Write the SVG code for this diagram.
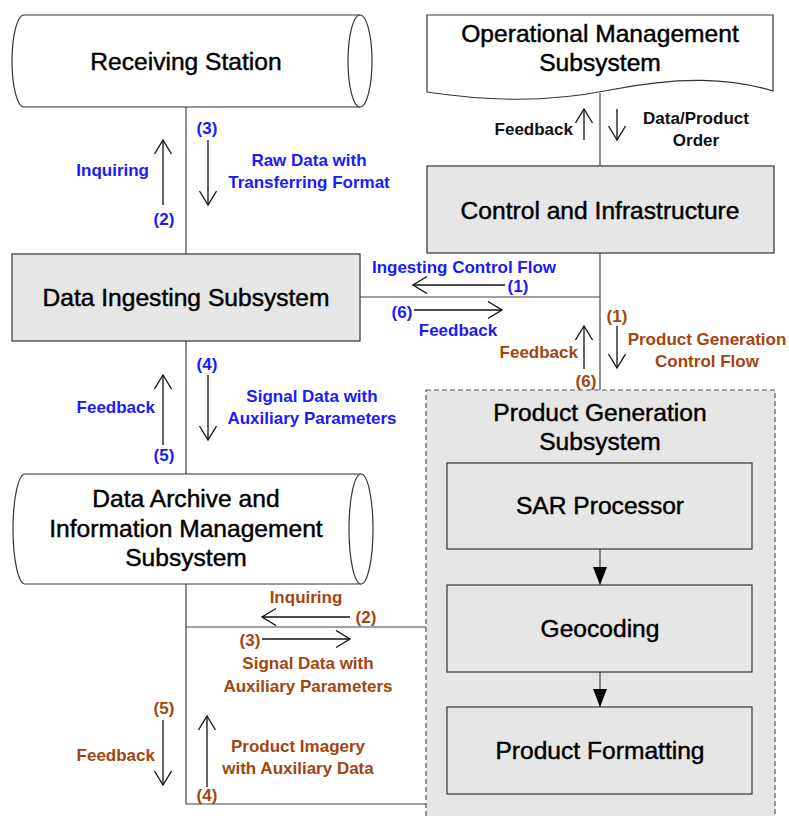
<svg xmlns="http://www.w3.org/2000/svg" width="789" height="816" viewBox="0 0 789 816">
  <style>
    .node { fill: #ffffff; stroke: #333333; stroke-width: 1.2; }
    .box { fill: #e6e6e6; stroke: #333333; stroke-width: 1.2; }
    .group { fill: #e6e6e6; stroke: #555555; stroke-width: 1.2; stroke-dasharray: 5 3; }
    .title { font-family: "Liberation Sans", Arial, sans-serif; font-size: 24.6px; fill: #000000; stroke: #000000; stroke-width: 0.45; text-anchor: middle; }
    .lbl { font-family: "Liberation Sans", Arial, sans-serif; font-size: 17px; font-weight: bold; }
    .blue { fill: #1a1aff; }
    .brown { fill: #a3450f; }
    .black { fill: #111111; }
    .mid { text-anchor: middle; }
    .end { text-anchor: end; }
    .wire { stroke: #444444; stroke-width: 1.2; fill: none; }
    .flow { stroke: #111111; stroke-width: 1.3; fill: none; marker-end: url(#open); }
    .step { stroke: #444444; stroke-width: 1.2; fill: none; marker-end: url(#solid); }
  </style>
  <defs>
    <marker id="open" markerUnits="userSpaceOnUse" markerWidth="18" markerHeight="20" refX="15" refY="9" orient="auto">
      <path d="M1,0.5 L15,9 L1,17.5" fill="none" stroke="#111111" stroke-width="1.3"/>
    </marker>
    <marker id="solid" markerUnits="userSpaceOnUse" markerWidth="20" markerHeight="16" refX="18" refY="7" orient="auto">
      <path d="M0,0 L18,7 L0,14 Z" fill="#000000"/>
    </marker>
  </defs>

  <!-- product generation container (drawn first, behind everything) -->
  <g id="product-generation">
    <rect class="group" x="426" y="390" width="349" height="440"/>
    <text class="title" x="600" y="421">Product Generation</text>
    <text class="title" x="600" y="450">Subsystem</text>
  </g>

  <!-- connectors -->
  <g id="connectors">
    <line class="wire" x1="186" y1="107" x2="186" y2="254"/>
    <line class="wire" x1="600" y1="93" x2="600" y2="166"/>
    <polyline class="wire" points="600,253 600,390"/>
    <line class="wire" x1="360" y1="297" x2="600" y2="297"/>
    <line class="wire" x1="186" y1="341" x2="186" y2="474"/>
    <polyline class="wire" points="426,627 186,627 186,584"/>
    <polyline class="wire" points="186,627 186,804 426,804"/>
    <line class="step" x1="600" y1="549" x2="600" y2="585"/>
    <line class="step" x1="600" y1="672" x2="600" y2="707"/>

    <!-- flow arrows -->
    <line class="flow" x1="163" y1="205" x2="163" y2="140"/>
    <line class="flow" x1="208" y1="140" x2="208" y2="205"/>
    <line class="flow" x1="584" y1="140" x2="584" y2="109"/>
    <line class="flow" x1="617" y1="109" x2="617" y2="140"/>
    <line class="flow" x1="505" y1="285" x2="413" y2="285"/>
    <line class="flow" x1="414" y1="310" x2="502" y2="310"/>
    <line class="flow" x1="617" y1="326" x2="617" y2="368"/>
    <line class="flow" x1="584" y1="369" x2="584" y2="326"/>
    <line class="flow" x1="163" y1="445" x2="163" y2="375"/>
    <line class="flow" x1="208" y1="375" x2="208" y2="440"/>
    <line class="flow" x1="350" y1="617" x2="262" y2="617"/>
    <line class="flow" x1="262" y1="639" x2="350" y2="639"/>
    <line class="flow" x1="163" y1="720" x2="163" y2="785"/>
    <line class="flow" x1="207" y1="787" x2="207" y2="716"/>
  </g>

  <!-- nodes -->
  <g id="receiving-station">
    <path class="node" d="M24,15 L360,15 A12,46 0 0 1 360,107 L24,107 A12,46 0 0 1 24,15 Z"/>
    <path class="node" d="M360,15 A12,46 0 0 0 360,107" fill="none"/>
    <text class="title" x="186" y="70">Receiving Station</text>
  </g>

  <g id="operational-management">
    <path class="node" d="M427,15 L773,15 L773,91 C730,78 680,76 610,90 C540,104 480,100 427,92 Z"/>
    <text class="title" x="600" y="42">Operational Management</text>
    <text class="title" x="600" y="71">Subsystem</text>
  </g>

  <g id="control-infrastructure">
    <rect class="box" x="427" y="166" width="347" height="87"/>
    <text class="title" x="600" y="219">Control and Infrastructure</text>
  </g>

  <g id="data-ingesting">
    <rect class="box" x="12" y="254" width="348" height="87"/>
    <text class="title" x="186" y="306">Data Ingesting Subsystem</text>
  </g>

  <g id="data-archive">
    <path class="node" d="M25,474 L361,474 A12,55 0 0 1 361,584 L25,584 A12,55 0 0 1 25,474 Z"/>
    <path class="node" d="M361,474 A12,55 0 0 0 361,584" fill="none"/>
    <text class="title" x="186" y="507">Data Archive and</text>
    <text class="title" x="186" y="537">Information Management</text>
    <text class="title" x="186" y="566">Subsystem</text>
  </g>

  <g id="sar-processor">
    <rect class="box" x="447" y="463" width="305" height="86"/>
    <text class="title" x="600" y="514">SAR Processor</text>
  </g>

  <g id="geocoding">
    <rect class="box" x="447" y="585" width="305" height="87"/>
    <text class="title" x="600" y="637">Geocoding</text>
  </g>

  <g id="product-formatting">
    <rect class="box" x="447" y="707" width="305" height="87"/>
    <text class="title" x="600" y="759">Product Formatting</text>
  </g>

  <!-- flow labels -->
  <g id="labels">
    <text class="lbl blue end" x="149" y="176">Inquiring</text>
    <text class="lbl blue mid" x="164" y="225">(2)</text>
    <text class="lbl blue mid" x="207" y="134">(3)</text>
    <text class="lbl blue mid" x="309" y="166">Raw Data with</text>
    <text class="lbl blue mid" x="309" y="188">Transferring Format</text>

    <text class="lbl black end" x="573" y="135">Feedback</text>
    <text class="lbl black mid" x="696" y="124">Data/Product</text>
    <text class="lbl black mid" x="696" y="146">Order</text>

    <text class="lbl blue mid" x="464" y="273">Ingesting Control Flow</text>
    <text class="lbl blue mid" x="518" y="292">(1)</text>
    <text class="lbl blue mid" x="402" y="318">(6)</text>
    <text class="lbl blue mid" x="458" y="336">Feedback</text>

    <text class="lbl brown mid" x="617" y="322">(1)</text>
    <text class="lbl brown mid" x="707" y="345">Product Generation</text>
    <text class="lbl brown mid" x="707" y="367">Control Flow</text>
    <text class="lbl brown end" x="578" y="358">Feedback</text>
    <text class="lbl brown mid" x="586" y="387">(6)</text>

    <text class="lbl blue mid" x="207" y="370">(4)</text>
    <text class="lbl blue mid" x="312" y="402">Signal Data with</text>
    <text class="lbl blue mid" x="312" y="424">Auxiliary Parameters</text>
    <text class="lbl blue end" x="155" y="413">Feedback</text>
    <text class="lbl blue mid" x="164" y="461">(5)</text>

    <text class="lbl brown mid" x="306" y="603">Inquiring</text>
    <text class="lbl brown mid" x="366" y="623">(2)</text>
    <text class="lbl brown mid" x="250" y="646">(3)</text>
    <text class="lbl brown mid" x="308" y="669">Signal Data with</text>
    <text class="lbl brown mid" x="308" y="692">Auxiliary Parameters</text>
    <text class="lbl brown mid" x="164" y="714">(5)</text>
    <text class="lbl brown end" x="155" y="761">Feedback</text>
    <text class="lbl brown mid" x="298" y="752">Product Imagery</text>
    <text class="lbl brown mid" x="298" y="774">with Auxiliary Data</text>
    <text class="lbl brown mid" x="207" y="801">(4)</text>
  </g>
</svg>
